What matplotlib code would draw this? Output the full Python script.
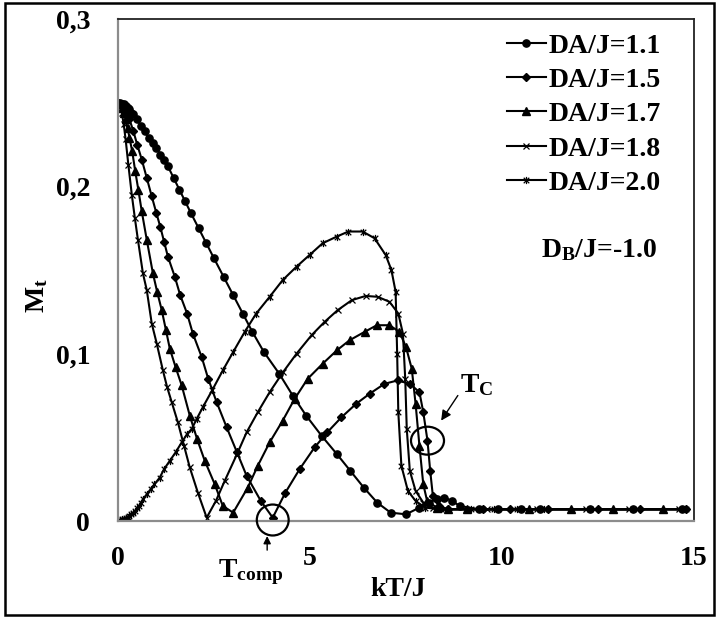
import matplotlib
matplotlib.use('Agg')
import matplotlib.pyplot as plt
from matplotlib.path import Path
from matplotlib.patches import Ellipse, Rectangle
import numpy as np

plt.rcParams['font.family'] = 'Liberation Serif'
plt.rcParams['font.weight'] = 'bold'
plt.rcParams['mathtext.fontset'] = 'custom'
plt.rcParams['mathtext.rm'] = 'Liberation Serif'
plt.rcParams['mathtext.bf'] = 'Liberation Serif:bold'
plt.rcParams['mathtext.it'] = 'Liberation Serif:italic'

# DA/J = 1.1 (circles)
t11 = [0.0, 0.05, 0.1, 0.15, 0.2, 0.25, 0.3, 0.35, 0.4, 0.5, 0.6, 0.7, 0.8, 0.9, 1.0, 1.1, 1.2, 1.3,
       1.45, 1.6, 1.75, 1.9, 2.1, 2.3, 2.5, 2.75, 3.0, 3.25, 3.5, 3.8, 4.2, 4.55, 4.9, 5.3, 5.7, 6.05,
       6.4, 6.75, 7.1, 7.5, 7.85, 8.1, 8.3, 8.5, 8.7, 8.9, 9.4, 9.9, 10.5, 11.0, 12.3, 13.4, 14.7]
m11 = [0.250, 0.250, 0.2495, 0.249, 0.248, 0.247, 0.246, 0.244, 0.243, 0.240, 0.236, 0.233, 0.229,
       0.226, 0.223, 0.219, 0.216, 0.212, 0.205, 0.198, 0.191, 0.184, 0.175, 0.166, 0.157, 0.146,
       0.135, 0.124, 0.113, 0.101, 0.088, 0.075, 0.063, 0.051, 0.040, 0.030, 0.020, 0.011, 0.005,
       0.004, 0.008, 0.011, 0.013, 0.014, 0.012, 0.009, 0.007, 0.007, 0.007, 0.007, 0.007, 0.007, 0.007]

# DA/J = 1.5 (diamonds)
t15 = [0.0, 0.05, 0.1, 0.15, 0.2, 0.3, 0.4, 0.5, 0.62, 0.75, 0.88, 1.0, 1.1, 1.2, 1.3, 1.48, 1.62,
       1.8, 1.95, 2.18, 2.35, 2.57, 2.83, 3.1, 3.35, 3.72, 4.03, 4.36, 4.73, 5.12, 5.45, 5.82, 6.2,
       6.55, 6.94, 7.28, 7.6, 7.85, 7.95, 8.06, 8.13, 8.2, 8.35, 8.6, 9.5, 10.2, 11.2, 12.5, 13.6, 14.8]
m15 = [0.250, 0.249, 0.248, 0.247, 0.246, 0.240, 0.233, 0.225, 0.216, 0.205, 0.194, 0.184, 0.176,
       0.167, 0.158, 0.146, 0.135, 0.124, 0.112, 0.098, 0.085, 0.071, 0.056, 0.041, 0.027, 0.012,
       0.002, 0.017, 0.031, 0.044, 0.053, 0.062, 0.070, 0.076, 0.082, 0.084, 0.082, 0.077, 0.065,
       0.048, 0.030, 0.015, 0.009, 0.007, 0.007, 0.007, 0.007, 0.007, 0.007, 0.007]

# DA/J = 1.7 (triangles)
t17 = [0.0, 0.05, 0.1, 0.15, 0.2, 0.25, 0.3, 0.37, 0.45, 0.53, 0.62, 0.75, 0.91, 1.02, 1.14, 1.25,
       1.35, 1.5, 1.66, 1.87, 2.06, 2.26, 2.52, 2.73, 3.0, 3.38, 3.64, 3.95, 4.29, 4.6, 4.94, 5.33,
       5.7, 6.03, 6.42, 6.74, 7.07, 7.33, 7.5, 7.65, 7.75, 7.85, 7.95, 8.05, 8.3, 8.6, 9.1, 10.7,
       11.8, 12.9, 14.2]
m17 = [0.250, 0.249, 0.247, 0.244, 0.240, 0.235, 0.229, 0.221, 0.209, 0.198, 0.185, 0.168, 0.148,
       0.137, 0.126, 0.114, 0.103, 0.092, 0.081, 0.063, 0.049, 0.036, 0.022, 0.009, 0.005, 0.020,
       0.033, 0.047, 0.060, 0.073, 0.085, 0.094, 0.102, 0.108, 0.113, 0.117, 0.117, 0.113, 0.104,
       0.091, 0.070, 0.045, 0.022, 0.012, 0.008, 0.007, 0.007, 0.007, 0.007, 0.007, 0.007]

# DA/J = 1.8 (crosses)
t18 = [0.0, 0.05, 0.1, 0.15, 0.2, 0.27, 0.36, 0.44, 0.52, 0.65, 0.75, 0.88, 1.01, 1.17, 1.28, 1.4,
       1.56, 1.72, 1.87, 2.08, 2.31, 2.55, 2.78, 3.1, 3.35, 3.64, 3.95, 4.3, 4.65, 5.04, 5.38, 5.72,
       6.09, 6.45, 6.76, 7.07, 7.3, 7.42, 7.48, 7.52, 7.6, 7.75, 7.95, 8.2, 8.5, 9.6, 10.9, 12.2,
       13.3, 14.6]
m18 = [0.250, 0.248, 0.244, 0.237, 0.228, 0.213, 0.195, 0.181, 0.168, 0.148, 0.138, 0.118, 0.106,
       0.090, 0.080, 0.071, 0.059, 0.045, 0.032, 0.017, 0.002, 0.012, 0.024, 0.040, 0.053, 0.065,
       0.077, 0.089, 0.100, 0.111, 0.119, 0.126, 0.132, 0.1345, 0.134, 0.131, 0.124, 0.112, 0.085,
       0.055, 0.030, 0.018, 0.011, 0.008, 0.007, 0.007, 0.007, 0.007, 0.007, 0.007]

# DA/J = 2.0 (asterisks)
t20 = [0.0, 0.05, 0.1, 0.15, 0.2, 0.25, 0.3, 0.35, 0.4, 0.45, 0.5, 0.55, 0.6, 0.65, 0.75, 0.85,
       0.95, 1.09, 1.2, 1.35, 1.5, 1.66, 1.8, 1.92, 2.05, 2.21, 2.45, 2.73, 3.0, 3.3, 3.6, 3.95,
       4.29, 4.65, 4.99, 5.33, 5.7, 6.0, 6.37, 6.68, 6.97, 7.12, 7.23, 7.27, 7.3, 7.38, 7.55, 7.75,
       8.0, 8.4, 9.2, 9.8, 10.4, 11.1, 12.3, 13.4, 14.8]
m20 = [0.0, 0.0005, 0.001, 0.0015, 0.002, 0.0025, 0.003, 0.004, 0.005, 0.006, 0.008, 0.009, 0.011,
       0.013, 0.016, 0.019, 0.022, 0.026, 0.031, 0.036, 0.041, 0.047, 0.052, 0.055, 0.061, 0.068,
       0.078, 0.090, 0.101, 0.113, 0.124, 0.134, 0.144, 0.152, 0.159, 0.166, 0.170, 0.173, 0.173,
       0.169, 0.159, 0.150, 0.137, 0.100, 0.065, 0.033, 0.018, 0.012, 0.008, 0.007, 0.007, 0.007,
       0.007, 0.007, 0.007, 0.007, 0.007]

labels = ['DA/J=1.1', 'DA/J=1.5', 'DA/J=1.7', 'DA/J=1.8', 'DA/J=2.0']
yticklabels = ['0', '0,1', '0,2', '0,3']

# excel-like asterisk: x with a vertical bar
star = Path([(-1, -1), (1, 1), (-1, 1), (1, -1), (0, -1.3), (0, 1.3)],
            [Path.MOVETO, Path.LINETO, Path.MOVETO, Path.LINETO, Path.MOVETO, Path.LINETO])

fs = 20

fig = plt.figure(figsize=(7.18, 6.19), dpi=100)
ax = fig.add_axes([0.1643, 0.1583, 0.8023, 0.8110])

lw = 1.5
ax.plot(t11, m11, '-o', color='black', lw=lw, ms=5.2, label=labels[0])
ax.plot(t15, m15, '-D', color='black', lw=lw, ms=3.8, label=labels[1])
ax.plot(t17, m17, '-^', color='black', lw=lw, ms=5.4, label=labels[2])
ax.plot(t18, m18, '-x', color='black', lw=lw, ms=5, mew=0.9, label=labels[3])
ax.plot(t20, m20, '-', marker=star, color='black', lw=lw, ms=5.2, mew=0.9, label=labels[4])

ax.set_xlim(0, 15)
ax.set_ylim(0, 0.3)
ax.set_xticks([0, 5, 10, 15])
ax.set_yticks([0, 0.1, 0.2, 0.3])
ax.set_yticklabels(yticklabels)
ax.tick_params(axis='both', length=0, labelsize=fs)
ax.tick_params(axis='x', pad=18)
ax.tick_params(axis='y', pad=20)

for s in ['left', 'bottom']:
    ax.spines[s].set_color('#8c8c8c')
    ax.spines[s].set_linewidth(1.6)
for s in ['top', 'right']:
    ax.spines[s].set_color('#222222')
    ax.spines[s].set_linewidth(1.3)

ax.set_ylabel(r'$\mathbf{M_t}$', fontsize=fs)
ax.yaxis.set_label_coords(-0.118, 0.45)
ax.set_xlabel('kT/J', fontsize=fs, fontweight='bold')
ax.xaxis.set_label_coords(0.486, -0.112)

ax.legend(loc='upper left', bbox_to_anchor=(0.675, 0.972), frameon=False, fontsize=fs,
          handlelength=1.4, handletextpad=0.12, labelspacing=0.32, borderpad=0, borderaxespad=0)

ax.text(0.735, 0.526, r'$\mathbf{D_B}$/J=-1.0', transform=ax.transAxes, fontsize=fs,
        fontweight='bold', va='baseline', ha='left')

# T_comp: minimum of the DA/J=1.5 curve
i_comp = int(np.argmin(m15[:30]))
ax.add_patch(Ellipse((t15[i_comp], 0.0006), 0.83, 0.0185, fill=False, lw=1.6,
                     color='black', clip_on=False, zorder=5))
ax.text(0.174, -0.112, r'$\mathbf{T_{comp}}$', transform=ax.transAxes, fontsize=fs,
        va='baseline', ha='left')
ax.annotate('', xy=(0.259, -0.030), xytext=(0.259, -0.058), xycoords='axes fraction',
            arrowprops=dict(arrowstyle='-|>', color='black', lw=1.0, mutation_scale=11,
                            shrinkA=0, shrinkB=0))

# T_C: steep drop of the DA/J=1.5 curve
i_c = t15.index(8.06)
ax.add_patch(Ellipse((t15[i_c], m15[i_c]), 0.86, 0.0167, fill=False, lw=1.6,
                     color='black', zorder=5))
ax.text(0.594, 0.257, r'$\mathbf{T_C}$', transform=ax.transAxes, fontsize=fs,
        va='baseline', ha='left')
ax.annotate('', xy=(0.561, 0.200), xytext=(0.590, 0.250), xycoords='axes fraction',
            arrowprops=dict(arrowstyle='-|>', color='black', lw=1.0, mutation_scale=15,
                            shrinkA=0, shrinkB=0))

fig.patches.append(Rectangle((0.007, 0.0065), 0.9875, 0.9887, transform=fig.transFigure,
                             fill=False, edgecolor='black', lw=1.8))

plt.savefig('out.png', dpi=100)
